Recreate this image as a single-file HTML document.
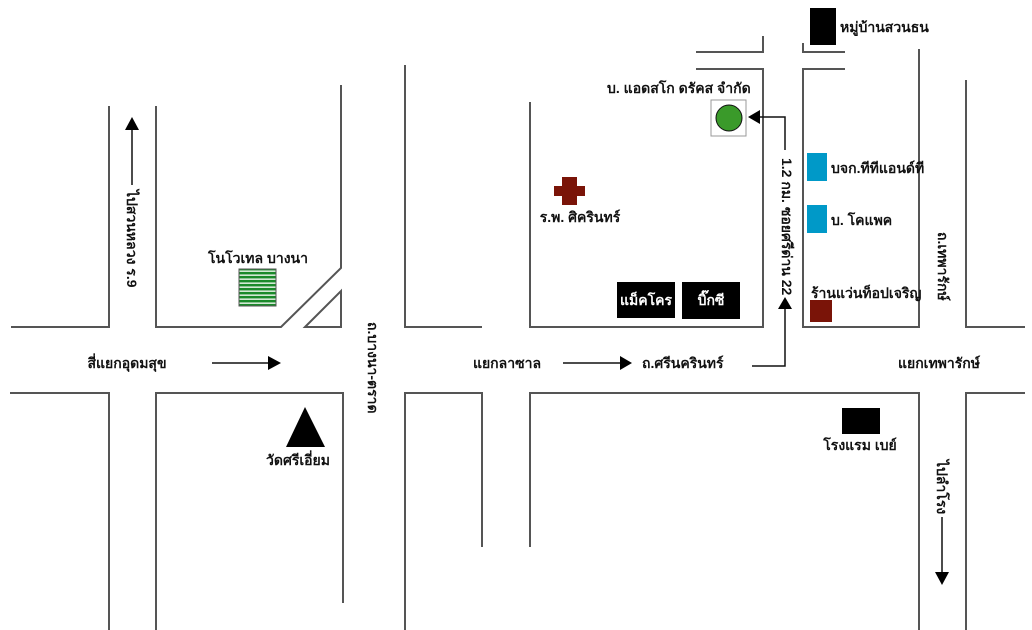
<!DOCTYPE html>
<html><head><meta charset="utf-8"><style>
html,body{margin:0;padding:0;background:#fff;}
svg{display:block;}
text{font-family:"Liberation Sans","DejaVu Sans","Noto Sans CJK SC",sans-serif;font-size:14px;font-weight:bold;fill:#111;}
</style></head><body>
<svg width="1032" height="630" viewBox="0 0 1032 630" xmlns="http://www.w3.org/2000/svg">
<defs>
<pattern id="st" width="4" height="4" patternUnits="userSpaceOnUse"><rect width="4" height="4" fill="#1a8a2a"/><rect y="2.5" width="4" height="1.3" fill="#fff"/></pattern>
</defs>
<g fill="none" stroke="#555" stroke-width="2">
<polyline points="109,106 109,327 11,327"/>
<polyline points="156,106 156,327 281,327 341,268 341,85"/>
<polygon points="305,327 341,291 341,327"/>
<polyline points="10,393 109,393 109,630"/>
<polyline points="156,630 156,393 343,393 343,603"/>
<polyline points="405,65 405,327 482,327"/>
<polyline points="405,630 405,393 482,393 482,547"/>
<polyline points="530,102 530,327 763,327 763,69 696,69"/>
<polyline points="696,52 763,52 763,36"/>
<polyline points="845,69 803,69 803,327 919,327 919,49"/>
<polyline points="845,52 803,52 803,43"/>
<polyline points="966,80 966,327 1025,327"/>
<polyline points="530,547 530,393 919,393 919,630"/>
<polyline points="966,630 966,393 1025,393"/>
</g>
<g stroke="#111" stroke-width="1.5" fill="none">
<line x1="132" y1="185" x2="132" y2="128"/>
<line x1="212" y1="363" x2="270" y2="363"/>
<line x1="563" y1="363" x2="622" y2="363"/>
<polyline points="752,366 785,366 785,306"/>
<polyline points="785,150 785,117 758,117"/>
<line x1="942" y1="517" x2="942" y2="575"/>
</g>
<g fill="#000">
<polygon points="132,117 125,130 139,130"/>
<polygon points="281,363 268,356 268,370"/>
<polygon points="632,363 620,356 620,370"/>
<polygon points="785,297 778,309 792,309"/>
<polygon points="748,117 760,110 760,124"/>
<polygon points="942,585 935,572 949,572"/>
<polygon points="305,407 286,447 325,447"/>
<rect x="810" y="8" width="26" height="37"/>
<rect x="617" y="282" width="58" height="36"/>
<rect x="682" y="282" width="58" height="37"/>
<rect x="842" y="408" width="38" height="26"/>
</g>
<rect x="239" y="269" width="37" height="37" fill="url(#st)" stroke="#555" stroke-width="1"/>
<rect x="711" y="100" width="35" height="36" fill="#fff" stroke="#999" stroke-width="1"/>
<circle cx="729" cy="118" r="13" fill="#3a9a2a" stroke="#111" stroke-width="1"/>
<path d="M562,177h15v9h8v10h-8v9h-15v-9h-8v-10h8z" fill="#7a1408"/>
<rect x="807" y="153" width="20" height="28" fill="#0099c8"/>
<rect x="807" y="205" width="20" height="28" fill="#0099c8"/>
<rect x="810" y="300" width="22" height="22" fill="#7a1408"/>
<text x="258" y="263" text-anchor="middle">โนโวเทล บางนา</text>
<text x="127" y="368" text-anchor="middle">สี่แยกอุดมสุข</text>
<text x="298" y="465" text-anchor="middle">วัดศรีเอี่ยม</text>
<text x="507" y="368" text-anchor="middle">แยกลาซาล</text>
<text x="642" y="368">ถ.ศรีนครินทร์</text>
<text x="980" y="368" text-anchor="end">แยกเทพารักษ์</text>
<text x="607" y="93">บ. แอดสโก ดรัคส จำกัด</text>
<text x="580" y="222" text-anchor="middle">ร.พ. ศิครินทร์</text>
<text x="646" y="305" text-anchor="middle" fill="#fff" style="fill:#fff">แม็คโคร</text>
<text x="711" y="305" text-anchor="middle" style="fill:#fff">บิ๊กซี</text>
<text x="840" y="32">หมู่บ้านสวนธน</text>
<text x="831" y="173">บจก.ทีทีแอนด์ที</text>
<text x="831" y="225">บ. โคแพค</text>
<text x="811" y="298">ร้านแว่นท็อปเจริญ</text>
<text x="860" y="450" text-anchor="middle">โรงแรม เบย์</text>
<text transform="translate(127,190) rotate(90)">ไปสวนหลวง ร.9</text>
<text transform="translate(368,322) rotate(90)">ถ.บางนา-ตราด</text>
<text transform="translate(782,158) rotate(90)">1.2 กม.  ซอยศรีด่าน 22</text>
<text transform="translate(938,232) rotate(90)">ถ.เทพารักษ์</text>
<text transform="translate(937,460) rotate(90)">ไปลำโรง</text>
</svg>
</body></html>
